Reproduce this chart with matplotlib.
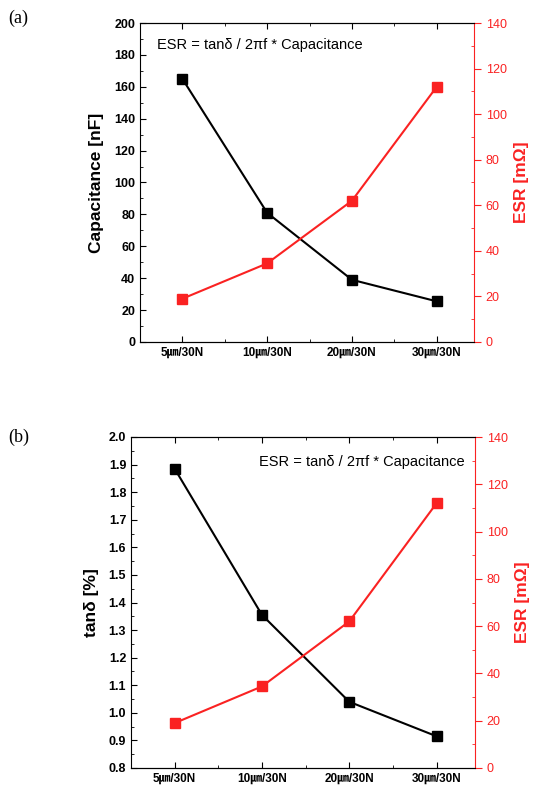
import matplotlib.pyplot as plt
from matplotlib.ticker import MultipleLocator, FixedLocator

categories = ['5㎛/30N', '10㎛/30N', '20㎛/30N', '30㎛/30N']
capacitance = [165, 81, 39, 25.5]
tan_delta = [1.885, 1.355, 1.04, 0.915]
esr = [19, 34.5, 62, 112]

W, H = 541, 789
fam = ['Liberation Sans', 'Noto Sans CJK JP', 'DejaVu Sans']
plt.rcParams['font.family'] = fam
red = '#fa2222'

fig = plt.figure(figsize=(W / 100, H / 100), dpi=100)


def box(l, t, r, b):
    return [l / W, 1 - b / H, (r - l) / W, (b - t) / H]


def panel(rect, yvals, ylim, ymaj, ymin, ylabel, fmt, text_xy, text_ha):
    ax = fig.add_axes(rect)
    x = list(range(len(categories)))
    ax.plot(x, yvals, color='black', marker='s', markersize=6.5, lw=1.5)
    ax.set_xlim(-0.5, 3.44)
    ax.set_ylim(*ylim)
    ax.yaxis.set_major_locator(MultipleLocator(ymaj))
    ax.yaxis.set_minor_locator(MultipleLocator(ymin))
    ax.xaxis.set_major_locator(FixedLocator(x))
    ax.xaxis.set_minor_locator(FixedLocator([0.5, 1.5, 2.5]))
    ax.set_xticklabels(categories, fontweight='bold', fontsize=8.5)
    ax.yaxis.set_major_formatter(plt.FuncFormatter(lambda v, p: fmt.format(v)))
    for lab in ax.get_yticklabels():
        lab.set_fontweight('bold')
        lab.set_fontsize(9)
    ax.tick_params(axis='both', which='both', direction='in', top=True, right=False)
    ax.tick_params(which='major', length=4)
    ax.tick_params(which='minor', length=2.5)
    ax.set_ylabel(ylabel, fontsize=12.5, fontweight='bold', labelpad=7)
    ax.spines['right'].set_visible(False)
    ax.text(text_xy[0], text_xy[1], 'ESR = tan\u03b4 / 2\u03c0f * Capacitance',
            transform=ax.transAxes, ha=text_ha, va='center', fontsize=10.5)

    ax2 = ax.twinx()
    ax2.plot(x, esr, color=red, marker='s', markersize=6.5, lw=1.5)
    ax2.set_ylim(0, 140)
    ax2.yaxis.set_major_locator(MultipleLocator(20))
    ax2.yaxis.set_minor_locator(MultipleLocator(10))
    ax2.spines['right'].set_color(red)
    ax2.spines['left'].set_visible(False)
    ax2.tick_params(axis='y', which='major', colors=red, direction='out',
                    length=5, labelsize=9)
    ax2.tick_params(axis='y', which='minor', colors=red, direction='in', length=2.5)
    ax2.set_ylabel('ESR [m\u03a9]', color=red, fontsize=12.5, fontweight='bold', labelpad=5)
    return ax, ax2


panel(box(140, 23, 474, 342), capacitance, (0, 200), 20, 10,
      'Capacitance [nF]', '{:.0f}', (0.05, 0.93), 'left')
panel(box(131, 437, 475, 768), tan_delta, (0.8, 2.0), 0.1, 0.05,
      'tan\u03b4 [%]', '{:.1f}', (0.97, 0.925), 'right')

fig.text(8 / W, 1 - 18 / H, '(a)', family='Liberation Serif', fontsize=13, va='center')
fig.text(8 / W, 1 - 437 / H, '(b)', family='Liberation Serif', fontsize=13, va='center')

fig.savefig('out.png', dpi=100)
